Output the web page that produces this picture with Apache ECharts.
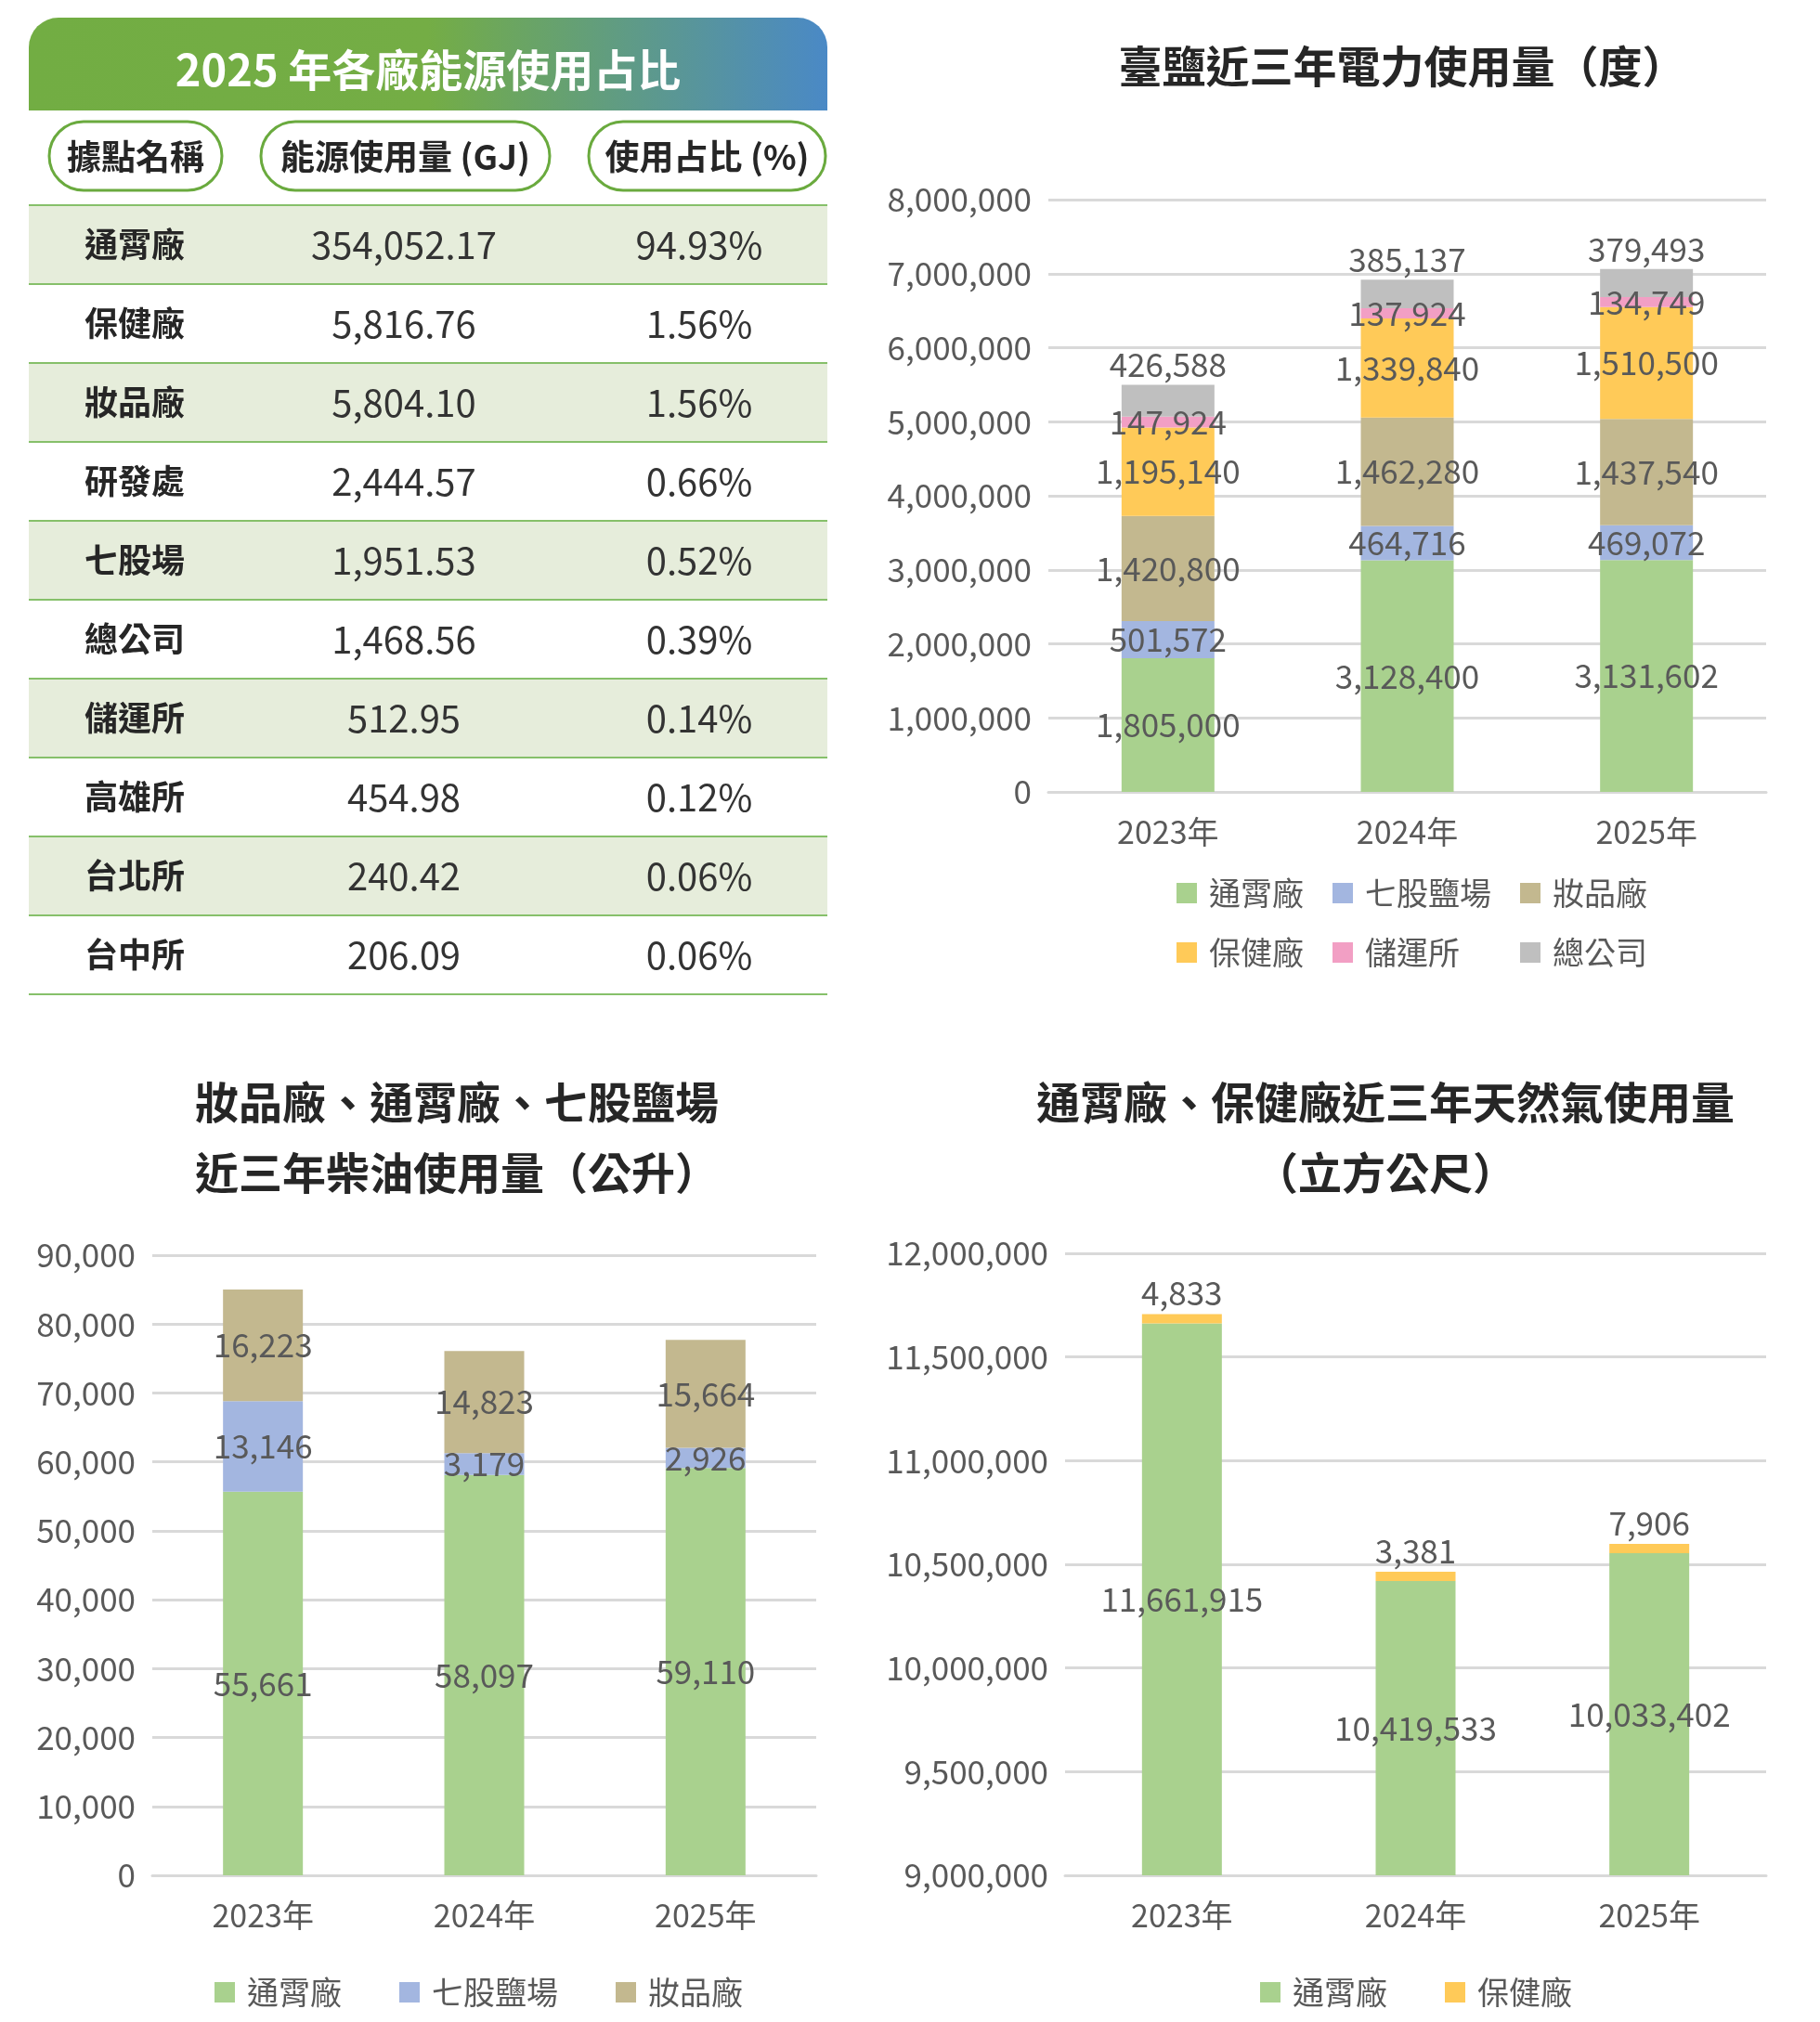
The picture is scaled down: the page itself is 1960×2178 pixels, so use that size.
<!DOCTYPE html>
<html>
<head>
<meta charset="utf-8">
<title>能源使用</title>
<script src="https://cdn.jsdelivr.net/npm/echarts/dist/echarts.min.js"></script>
<style>html,body{margin:0;background:#fff}</style>
</head>
<body>
<div id="main" style="width:1960px;height:2178px;"></div>
<script>
var FONT = '"Noto Sans CJK TC", "Noto Sans", sans-serif';

// 表格資料
var siteNames = ['通霄廠', '保健廠', '妝品廠', '研發處', '七股場', '總公司', '儲運所', '高雄所', '台北所', '台中所'];
var siteGJ = ['354,052.17', '5,816.76', '5,804.10', '2,444.57', '1,951.53', '1,468.56', '512.95', '454.98', '240.42', '206.09'];
var siteShare = ['94.93%', '1.56%', '1.56%', '0.66%', '0.52%', '0.39%', '0.14%', '0.12%', '0.06%', '0.06%'];

// 電力
var years = ['2023年', '2024年', '2025年'];
var elecNames = ['通霄廠', '七股鹽場', '妝品廠', '保健廠', '儲運所', '總公司'];
var elecTongxiao = [1805000, 3128400, 3131602];
var elecQigu = [501572, 464716, 469072];
var elecCosme = [1420800, 1462280, 1437540];
var elecHealth = [1195140, 1339840, 1510500];
var elecStorage = [147924, 137924, 134749];
var elecHQ = [426588, 385137, 379493];

// 柴油
var dieselNames = ['通霄廠', '七股鹽場', '妝品廠'];
var dieselTongxiao = [55661, 58097, 59110];
var dieselQigu = [13146, 3179, 2926];
var dieselCosme = [16223, 14823, 15664];

// 天然氣
var gasNames = ['通霄廠', '保健廠'];
var gasTongxiao = [11661915, 10419533, 10553402];
var gasTongxiaoLabels = ['11,661,915', '10,419,533', '10,033,402'];
var gasHealth = [4833, 3381, 7906];

var colors = {
    '通霄廠': '#a9d18e', '七股鹽場': '#a3b6e0', '妝品廠': '#c3b88f',
    '保健廠': '#ffca58', '儲運所': '#f29fc4', '總公司': '#bfbfbf'
};

function fmt(v) { return String(v).replace(/\B(?=(\d{3})+(?!\d))/g, ','); }

// ---------- 表格 ----------
var graphic = [];
var tL = 31, tR = 891, tW = tR - tL;
graphic.push({
    type: 'rect', shape: { x: tL, y: 19, width: tW, height: 100, r: [32, 32, 0, 0] },
    style: { fill: new echarts.graphic.LinearGradient(0, 0, 1, 0, [
        { offset: 0, color: '#72ad43' }, { offset: 0.5, color: '#74ad45' }, { offset: 1, color: '#4a89c6' }]) }
});
graphic.push({
    type: 'text', x: tL + tW / 2, y: 75,
    style: { text: '2025 年各廠能源使用占比', fill: '#fff', font: 'bold 47px ' + FONT, align: 'center', verticalAlign: 'middle' }
});
var pills = [[53, 239, '據點名稱'], [281, 592, '能源使用量 (GJ)'], [634, 889, '使用占比 (%)']];
pills.forEach(function (p) {
    graphic.push({ type: 'rect', shape: { x: p[0], y: 131, width: p[1] - p[0], height: 74, r: 37 },
        style: { fill: '#fff', stroke: '#6aaa3e', lineWidth: 3 } });
    graphic.push({ type: 'text', x: (p[0] + p[1]) / 2, y: 169,
        style: { text: p[2], fill: '#262626', font: 'bold 37px ' + FONT, align: 'center', verticalAlign: 'middle' } });
});
var rowTop = 221, rowH = 85;
siteNames.forEach(function (name, i) {
    var y = rowTop + i * rowH;
    if (i % 2 === 0) {
        graphic.push({ type: 'rect', shape: { x: tL, y: y, width: tW, height: rowH }, style: { fill: '#e6eddb' } });
    }
    graphic.push({ type: 'line', shape: { x1: tL, y1: y, x2: tR, y2: y }, style: { stroke: '#86c06a', lineWidth: 2 } });
    var cy = y + rowH / 2;
    graphic.push({ type: 'text', x: 145, y: cy, style: { text: name, fill: '#262626', font: 'bold 36px ' + FONT, align: 'center', verticalAlign: 'middle' } });
    graphic.push({ type: 'text', x: 435, y: cy, style: { text: siteGJ[i], fill: '#333', font: '40px ' + FONT, align: 'center', verticalAlign: 'middle' } });
    graphic.push({ type: 'text', x: 753, y: cy, style: { text: siteShare[i], fill: '#333', font: '40px ' + FONT, align: 'center', verticalAlign: 'middle' } });
});
graphic.push({ type: 'line', shape: { x1: tL, y1: rowTop + 10 * rowH, x2: tR, y2: rowTop + 10 * rowH }, style: { stroke: '#86c06a', lineWidth: 2 } });

// ---------- 圖表 ----------
var titleStyle = { color: '#262626', fontSize: 47, fontWeight: 'bold', fontFamily: FONT, lineHeight: 76 };
var axisLab = { color: '#595959', fontSize: 35, fontFamily: FONT };
var legendText = { color: '#595959', fontSize: 34, fontFamily: FONT, padding: [0, 0, 0, 8] };

function xAx(gi) {
    return { type: 'category', data: years, gridIndex: gi,
        axisLine: { lineStyle: { color: '#d9d9d9', width: 3 } }, axisTick: { show: false },
        axisLabel: { color: '#595959', fontSize: 34, fontFamily: FONT, margin: 26 } };
}
function yAx(gi, min, max, interval) {
    return { type: 'value', gridIndex: gi, min: min, max: max, interval: interval,
        axisLine: { show: false }, axisTick: { show: false },
        splitLine: { lineStyle: { color: '#d9d9d9', width: 3 } },
        axisLabel: Object.assign({ formatter: fmt, margin: 18 }, axisLab) };
}
function bar(name, data, gi, stack, width, pos, extra) {
    return Object.assign({
        name: name, type: 'bar', stack: stack, data: data, xAxisIndex: gi, yAxisIndex: gi,
        barWidth: width, itemStyle: { color: colors[name] },
        label: { show: true, position: pos, color: '#595959', fontSize: 35, fontFamily: FONT,
            formatter: function (p) { return fmt(p.value); } }
    }, extra || {});
}

var series = [
    bar('通霄廠', elecTongxiao, 0, 'e', 100, 'inside'),
    bar('七股鹽場', elecQigu, 0, 'e', 100, 'inside'),
    bar('妝品廠', elecCosme, 0, 'e', 100, 'inside'),
    bar('保健廠', elecHealth, 0, 'e', 100, 'inside'),
    bar('儲運所', elecStorage, 0, 'e', 100, 'inside'),
    bar('總公司', elecHQ, 0, 'e', 100, 'top', {}),
    bar('通霄廠', dieselTongxiao, 1, 'd', 86, 'inside'),
    bar('七股鹽場', dieselQigu, 1, 'd', 86, 'inside'),
    bar('妝品廠', dieselCosme, 1, 'd', 86, 'inside'),
    bar('通霄廠', gasTongxiao, 2, 'g', 86, 'inside', {}),
    bar('保健廠', gasHealth, 2, 'g', 86, 'top', { barMinHeight: 10 })
];
series[5].label.distance = 4;
series[9].label.formatter = function (p) { return gasTongxiaoLabels[p.dataIndex]; };

function legendCol(names, left, top, orient) {
    return { data: names, left: left, top: top, orient: orient || 'vertical', itemGap: orient ? 62 : 30,
        itemWidth: 22, itemHeight: 22, icon: 'rect', textStyle: legendText, selectedMode: false };
}

var option = {
    animation: false,
    graphic: graphic,
    title: [
        { text: '臺鹽近三年電力使用量（度）', left: 1505, top: 28, textAlign: 'center', textStyle: titleStyle },
        { text: '妝品廠、通霄廠、七股鹽場\n近三年柴油使用量（公升）', left: 487, top: 1144, textAlign: 'center', textStyle: titleStyle },
        { text: '通霄廠、保健廠近三年天然氣使用量\n（立方公尺）', left: 1487, top: 1144, textAlign: 'center', textStyle: titleStyle }
    ],
    legend: [
        legendCol(['通霄廠', '保健廠'], 1262, 940),
        legendCol(['七股鹽場', '儲運所'], 1430, 940),
        legendCol(['妝品廠', '總公司'], 1632, 940),
        legendCol(dieselNames, 226, 2124, 'horizontal'),
        legendCol(gasNames, 1352, 2124, 'horizontal')
    ],
    grid: [
        { left: 1129, right: 58, top: 215, height: 638 },
        { left: 164, width: 715, top: 1352, height: 668 },
        { left: 1147, right: 58, top: 1350, height: 670 }
    ],
    xAxis: [xAx(0), xAx(1), xAx(2)],
    yAxis: [yAx(0, 0, 8000000, 1000000), yAx(1, 0, 90000, 10000), yAx(2, 9000000, 12000000, 500000)],
    series: series
};

var chart = echarts.init(document.getElementById('main'));
chart.setOption(option);
</script>
</body>
</html>
